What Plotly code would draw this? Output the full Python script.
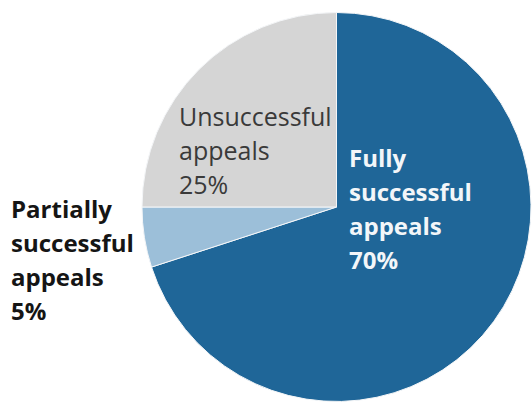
import plotly.graph_objects as go

# Outcome of appeals (share of all appeals, %)
categories = ["Fully successful appeals", "Partially successful appeals", "Unsuccessful appeals"]
shares = [70, 5, 25]
colors = ["#1f6698", "#9cbfd9", "#d5d5d5"]

# Label text for each slice, split over lines
label_lines = {
    "Fully successful appeals": ["Fully", "successful", "appeals"],
    "Partially successful appeals": ["Partially", "successful", "appeals"],
    "Unsuccessful appeals": ["Unsuccessful", "appeals"],
}

W, H = 532, 404

fig = go.Figure(
    go.Pie(
        labels=categories,
        values=shares,
        sort=False,
        direction="clockwise",
        rotation=0,
        marker=dict(colors=colors, line=dict(color="#f4f6f8", width=1)),
        textinfo="none",
        hoverinfo="label+percent",
        showlegend=False,
        domain=dict(x=[0.265, 1.0], y=[1 - 401.5 / H, 1 - 12.5 / H]),
    )
)

# Label block placement: left edge and first-line baseline (pixels), style
label_style = {
    "Fully successful appeals": dict(x=348, base=166, color="#f3f6f9", bold=True, size=24),
    "Partially successful appeals": dict(x=10, base=217, color="#151515", bold=True, size=24),
    "Unsuccessful appeals": dict(x=178, base=125, color="#3a3a3a", bold=False, size=25),
}
line_pitch = 34

annotations = []
for cat, val in zip(categories, shares):
    st = label_style[cat]
    lines = label_lines[cat] + [f"{val}%"]
    for i, line in enumerate(lines):
        txt = f"<b>{line}</b>" if st["bold"] else line
        baseline = st["base"] + i * line_pitch
        annotations.append(
            dict(
                text=txt,
                xref="paper",
                yref="paper",
                x=st["x"] / W,
                y=1 - (baseline - 9) / H,
                xanchor="left",
                yanchor="middle",
                align="left",
                showarrow=False,
                borderpad=0,
                font=dict(family="Open Sans", size=st["size"], color=st["color"]),
            )
        )

fig.update_layout(
    width=W,
    height=H,
    margin=dict(l=0, r=0, t=0, b=0),
    paper_bgcolor="white",
    plot_bgcolor="white",
    annotations=annotations,
)

fig.write_html("out.html")
